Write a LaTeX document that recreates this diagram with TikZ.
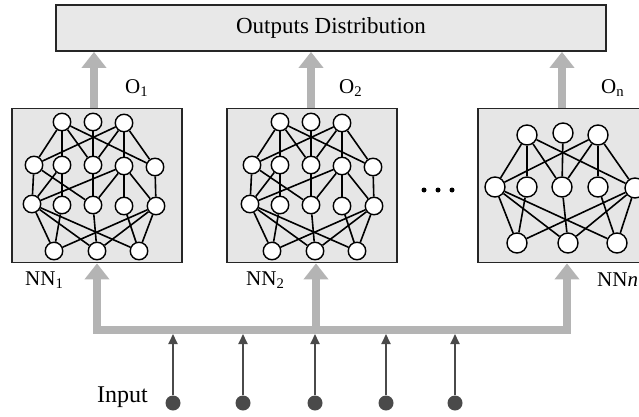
\documentclass[tikz,border=0pt]{standalone}
\usepackage{fontspec}
\setmainfont{Liberation Serif}
\usetikzlibrary{arrows.meta}
\definecolor{arrgray}{HTML}{B4B4B4}
\definecolor{boxgray}{HTML}{E6E6E6}
\definecolor{dotgray}{HTML}{4A4A4A}
\newcommand\fournet[2]{%
  \begin{scope}[xshift=#2pt]
    \node[neuron] (#1T1) at (62,122) {};
    \node[neuron] (#1T2) at (93,122) {};
    \node[neuron] (#1T3) at (124,123) {};
    \node[neuron] (#1B1) at (34,165) {};
    \node[neuron] (#1B2) at (62,165) {};
    \node[neuron] (#1B3) at (93,165) {};
    \node[neuron] (#1B4) at (124,166) {};
    \node[neuron] (#1B5) at (155,167) {};
    \node[neuron] (#1C1) at (32,204) {};
    \node[neuron] (#1C2) at (62,205) {};
    \node[neuron] (#1C3) at (93,205) {};
    \node[neuron] (#1C4) at (124,206) {};
    \node[neuron] (#1C5) at (156,206) {};
    \node[neuron] (#1D1) at (54,251) {};
    \node[neuron] (#1D2) at (97,251) {};
    \node[neuron] (#1D3) at (139,251) {};
    \foreach \a/\b in {T1/B1,T1/B2,T1/B3,T1/B5,T2/B3,T3/B1,T3/B3,T3/B4,T3/B5,
      B1/C1,B1/C3,B2/C1,B2/C2,B3/C3,B4/C1,B4/C3,B4/C4,B4/C5,B5/C5,
      C1/D1,C1/D2,C1/D3,C2/D1,C3/D2,C4/D3,C5/D1,C5/D2,C5/D3}
      \draw[syn] (#1\a) -- (#1\b);
  \end{scope}}
\begin{document}
\begin{tikzpicture}[x=1pt,y=-1pt,
  nnbox/.style={draw=black!85, line width=1.8pt, fill=boxgray, minimum width=170pt, minimum height=154pt, inner sep=0pt},
  outbox/.style={draw=black!85, line width=1.8pt, fill=boxgray!90!white, minimum width=550pt, minimum height=46pt, inner sep=0pt, font=\fontsize{23}{25}\selectfont},
  neuron/.style={circle, draw=black, line width=1.4pt, fill=white, minimum size=17.5pt, inner sep=0pt},
  bigneuron/.style={neuron, minimum size=20pt},
  syn/.style={line width=1.6pt, black},
  fatarrow/.style={draw=arrgray, line width=8pt, -{Triangle[width=24pt,length=16pt]}},
  busline/.style={draw=arrgray, line width=8pt, line cap=rect},
  indot/.style={circle, fill=dotgray, minimum size=15pt, inner sep=0pt},
  inarrow/.style={draw=dotgray, line width=1.8pt, -{Triangle[width=9pt,length=10pt]}},
  lbl/.style={font=\fontsize{21}{23}\selectfont, inner sep=0pt},
  ell/.style={circle, fill=black, minimum size=5pt, inner sep=0pt}
]
\useasboundingbox (0,0) rectangle (639,417);
\clip (0,0) rectangle (639,417);
\fill[white] (0,0) rectangle (639,417);

% output box
\node[outbox] (out) at (331,28) {Outputs Distribution};

% NN boxes
\node[nnbox] (nn1) at (97,185.5) {};
\node[nnbox] (nn2) at (312,185.5) {};
\node[nnbox] (nnn) at (563,185.5) {};

% networks
\fournet{a}{0}
\fournet{b}{218}

% third network
\node[bigneuron] (cT1) at (527,135) {};
\node[bigneuron] (cT2) at (563,133) {};
\node[bigneuron] (cT3) at (598,135) {};
\node[bigneuron] (cB1) at (495,187) {};
\node[bigneuron] (cB2) at (527,187) {};
\node[bigneuron] (cB3) at (562,187) {};
\node[bigneuron] (cB4) at (598,187) {};
\node[bigneuron] (cB5) at (635,188) {};
\node[bigneuron] (cD1) at (517,243) {};
\node[bigneuron] (cD2) at (568,243) {};
\node[bigneuron] (cD3) at (617,243) {};
\foreach \a/\b in {T1/B1,T1/B2,T1/B3,T1/B5,T2/B3,T3/B1,T3/B3,T3/B4,T3/B5,
  B1/D1,B1/D2,B1/D3,B2/D1,B3/D2,B4/D3,B5/D1,B5/D2,B5/D3}
  \draw[syn] (c\a) -- (c\b);

% ellipsis
\node[ell] (e1) at (424,190) {};
\node[ell] (e2) at (438,190) {};
\node[ell] (e3) at (452,190) {};

% top arrows
\coordinate (t1) at ([xshift=-3pt]nn1.north);
\coordinate (t2) at ([xshift=-1pt]nn2.north);
\coordinate (t3) at ([xshift=-1pt]nnn.north);
\draw[fatarrow] (t1) -- (t1 |- out.south);
\draw[fatarrow] (t2) -- (t2 |- out.south);
\draw[fatarrow] (t3) -- (t3 |- out.south);

% bus
\coordinate (busL) at (97,330);
\coordinate (busR) at (567,330);
\coordinate (busB) at (0,334);
\draw[busline] (busL) -- (busR);
\coordinate (b2) at (316,330);
\draw[fatarrow] (busL) -- (busL |- nn1.south);
\draw[fatarrow] (b2) -- (b2 |- nn2.south);
\draw[fatarrow] (busR) -- (busR |- nnn.south);

% inputs
\foreach \i/\x in {1/173,2/243,3/315,4/386,5/455}{
  \node[indot] (in\i) at (\x,403) {};
  \draw[inarrow] (in\i) -- (in\i |- busB);
}

% labels
\node[lbl, anchor=west] (o1) at (125,88) {O\textsubscript{1}};
\node[lbl, anchor=west] (o2) at (339,88) {O\textsubscript{2}};
\node[lbl, anchor=west] (on) at (601,88) {O\textsubscript{n}};
\node[lbl, anchor=west] (l1) at (25,280) {NN\textsubscript{1}};
\node[lbl, anchor=west] (l2) at (246,280) {NN\textsubscript{2}};
\node[lbl, anchor=west] (ln) at (597,280) {NN\textit{n}};
\node[lbl, anchor=base east, font=\fontsize{24}{26}\selectfont] (inp) at (148,402) {Input};
\end{tikzpicture}
\end{document}
